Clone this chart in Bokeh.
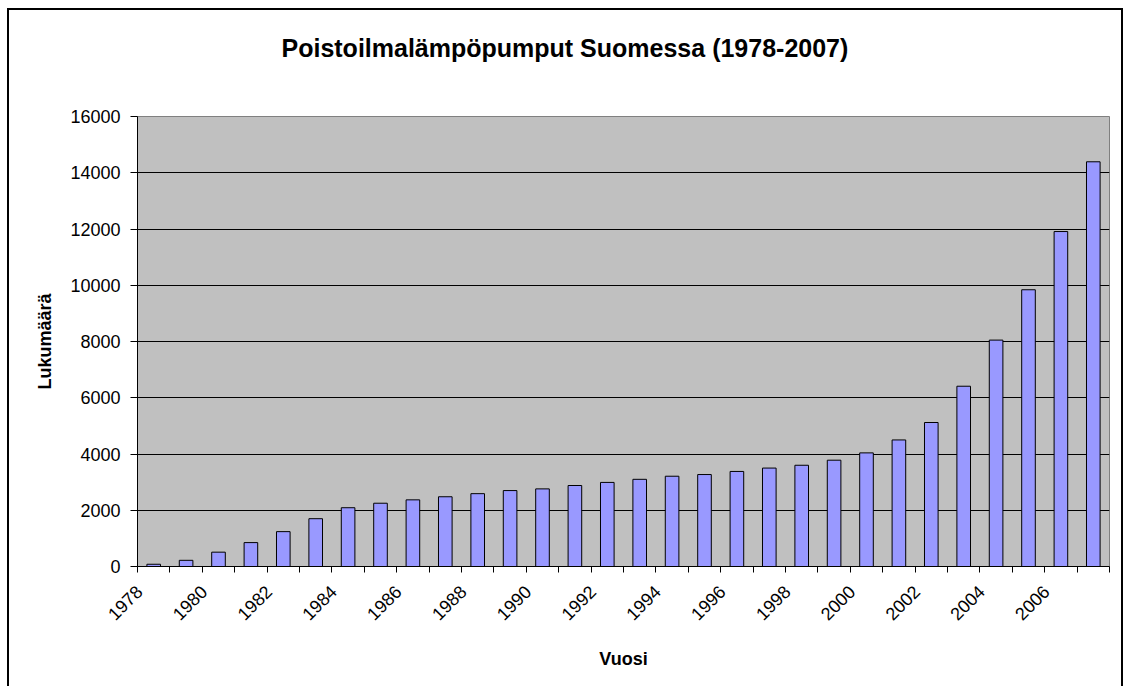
from bokeh.plotting import figure
from bokeh.models import FixedTicker, Range1d, InlineStyleSheet, Title
from bokeh.embed import file_html
from bokeh.resources import INLINE
from math import pi

# ---- data ----
years = list(range(1978, 2008))
counts = [80, 220, 510, 850, 1240, 1700, 2090, 2250, 2370, 2480,
          2590, 2700, 2760, 2880, 2990, 3100, 3210, 3270, 3380, 3500,
          3600, 3780, 4040, 4500, 5120, 6410, 8050, 9840, 11910, 14390]
y_ticks = [0, 2000, 4000, 6000, 8000, 10000, 12000, 14000, 16000]
x_label_years = [y for y in years if y % 2 == 0]

title_text = "Poistoilmalämpöpumput Suomessa (1978-2007)"
x_title = "Vuosi"
y_title = "Lukumäärä"

FONT = "Liberation Sans"

W, H = 1124, 686
p = figure(width=W, height=H, output_backend="svg", toolbar_location=None,
           x_range=Range1d(years[0] - 0.5, years[-1] + 0.5),
           y_range=Range1d(y_ticks[0], y_ticks[-1]),
           min_border_left=137, min_border_right=15,
           min_border_top=116, min_border_bottom=120)

p.background_fill_color = "#C0C0C0"
p.border_fill_color = "white"
p.outline_line_color = "#808080"
p.outline_line_width = 1

p.vbar(x=years, top=counts, width=0.42, fill_color="#9999FF",
       line_color="black", line_width=1)

# grid
p.xgrid.visible = False
p.ygrid.ticker = FixedTicker(ticks=y_ticks[1:-1])
p.ygrid.grid_line_color = "black"
p.ygrid.grid_line_width = 1

# y axis
ya = p.yaxis[0]
ya.ticker = FixedTicker(ticks=y_ticks)
ya.axis_line_color = "black"
ya.major_tick_out = 7
ya.major_tick_in = 0
ya.major_tick_line_color = "black"
ya.minor_tick_line_color = None
ya.major_label_standoff = 10
ya.major_label_text_font = FONT
ya.major_label_text_font_size = "18px"
ya.major_label_text_color = "black"
ya.axis_label = y_title
ya.axis_label_text_font = FONT
ya.axis_label_text_font_size = "18px"
ya.axis_label_text_font_style = "bold"
ya.axis_label_text_color = "black"
ya.axis_label_standoff = 12

# x axis: tick marks between categories, rotated labels ending at category centre
xa = p.xaxis[0]
boundaries = [y - 0.5 for y in years] + [years[-1] + 0.5]
label_pos = [y - 0.45 for y in x_label_years]
xa.ticker = FixedTicker(ticks=label_pos, minor_ticks=boundaries)
xa.major_label_overrides = {pos: str(y) for pos, y in zip(label_pos, x_label_years)}
xa.axis_line_color = "black"
xa.major_tick_out = 0
xa.major_tick_in = 0
xa.minor_tick_out = 6
xa.minor_tick_in = 0
xa.minor_tick_line_color = "black"
xa.major_label_orientation = pi / 4
xa.major_label_standoff = 16
xa.major_label_text_font = FONT
xa.major_label_text_font_size = "18px"
xa.major_label_text_color = "black"
xa.axis_label = x_title
xa.axis_label_text_font = FONT
xa.axis_label_text_font_size = "18px"
xa.axis_label_text_font_style = "bold"
xa.axis_label_text_color = "black"
xa.axis_label_standoff = 20

# title: empty default title, a spacer panel next to the frame, then the real title
p.title.text = ""
p.add_layout(Title(text=" ", text_font_size="10px", standoff=40), "above")
p.add_layout(Title(text=title_text, text_font=FONT, text_font_size="25px",
                   text_font_style="bold", text_color="black",
                   align="left", offset=144, vertical_align="top", standoff=0),
             "above")

# outer chart border
p.stylesheets = [InlineStyleSheet(css=(
    ":host::after { content: ''; position: absolute; left: 7px; top: 8px; "
    "width: 1116px; height: 678px; border: 2px solid black; border-bottom: none; "
    "box-sizing: border-box; pointer-events: none; z-index: 100; }"))]

open("out.html", "w").write(file_html(p, INLINE))
